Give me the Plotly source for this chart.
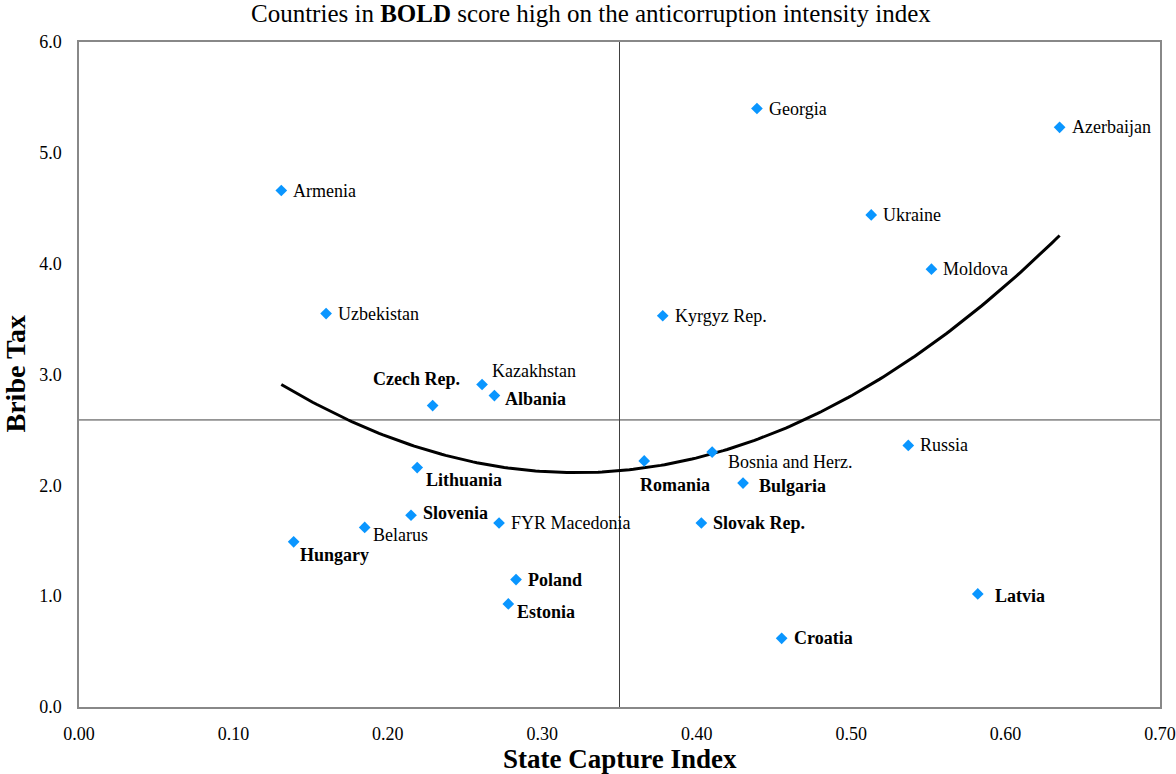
import numpy as np
import plotly.graph_objects as go

# Country data: State Capture Index (x) and Bribe Tax (y)
countries = ["Armenia", "Uzbekistan", "Czech Rep.", "Kazakhstan", "Albania",
             "Lithuania", "Slovenia", "Belarus", "Hungary", "FYR Macedonia",
             "Poland", "Estonia", "Georgia", "Azerbaijan", "Ukraine", "Moldova",
             "Kyrgyz Rep.", "Romania", "Bosnia and Herz.", "Russia", "Bulgaria",
             "Slovak Rep.", "Latvia", "Croatia"]
state_capture = [0.131, 0.160, 0.229, 0.261, 0.269,
                 0.219, 0.215, 0.185, 0.139, 0.272,
                 0.283, 0.278, 0.439, 0.635, 0.513, 0.552,
                 0.378, 0.366, 0.410, 0.537, 0.430,
                 0.403, 0.582, 0.455]
bribe_tax = [4.66, 3.55, 2.72, 2.91, 2.81,
             2.16, 1.73, 1.62, 1.49, 1.66,
             1.15, 0.93, 5.40, 5.23, 4.44, 3.95,
             3.53, 2.22, 2.30, 2.36, 2.02,
             1.66, 1.02, 0.62]
# High anticorruption intensity -> bold label
high_intensity = ["Czech Rep.", "Albania", "Lithuania", "Slovenia", "Hungary",
                  "Poland", "Estonia", "Romania", "Bulgaria", "Slovak Rep.",
                  "Latvia", "Croatia"]

# Reference lines
x_ref = 0.35
y_ref = 2.59

x_ticks = [0.0, 0.1, 0.2, 0.3, 0.4, 0.5, 0.6, 0.7]
y_ticks = [0.0, 1.0, 2.0, 3.0, 4.0, 5.0, 6.0]

# label placement (anchor, xshift px, yshift px)
label_pos = {
    "Czech Rep.": ("center", -16, 27),
    "Kazakhstan": ("left", 8, 13),
    "Albania": ("left", 9, -3),
    "Lithuania": ("left", 7, -12),
    "Slovenia": ("left", 10, 2),
    "Belarus": ("left", 6, -8),
    "Hungary": ("left", 4, -13),
    "Estonia": ("left", 7, -8),
    "Romania": ("left", -6, -24),
    "Bosnia and Herz.": ("left", 14, -10),
    "Bulgaria": ("left", 14, -3),
    "Latvia": ("left", 15, -2),
}

fig = go.Figure()

# quadratic trend fitted to the data
coef = np.polyfit(state_capture, bribe_tax, 2)
xs = np.linspace(min(state_capture), max(state_capture), 200)
fig.add_trace(go.Scatter(x=xs, y=np.polyval(coef, xs), mode="lines",
                         line=dict(color="black", width=3), hoverinfo="skip",
                         showlegend=False))

fig.add_trace(go.Scatter(x=state_capture, y=bribe_tax, mode="markers",
                         marker=dict(symbol="diamond", size=9, color="#0A96FF"),
                         text=countries, showlegend=False))

annotations = []
for name, xv, yv in zip(countries, state_capture, bribe_tax):
    anchor, dx, dy = label_pos.get(name, ("left", 10, 0))
    txt = f"<b>{name}</b>" if name in high_intensity else name
    annotations.append(dict(x=xv, y=yv, xref="x", yref="y", text=txt,
                            showarrow=False, xanchor=anchor, yanchor="middle",
                            xshift=dx, yshift=dy,
                            font=dict(family="Liberation Serif", size=18, color="black")))

annotations.append(dict(x=0.4736, y=1, xref="paper", yref="paper", yshift=29,
                        text="Countries in <b>BOLD</b> score high on the anticorruption intensity index",
                        showarrow=False, xanchor="center", yanchor="middle",
                        font=dict(family="Liberation Serif", size=25, color="black")))
annotations.append(dict(x=0.5, y=0, xref="paper", yref="paper", yshift=-52,
                        text="<b>State Capture Index</b>", showarrow=False,
                        xanchor="center", yanchor="middle",
                        font=dict(family="Liberation Serif", size=27, color="black")))
annotations.append(dict(x=0, y=0.5, xref="paper", yref="paper", xshift=-64,
                        text="<b>Bribe Tax</b>", showarrow=False, textangle=-90,
                        xanchor="center", yanchor="middle",
                        font=dict(family="Liberation Serif", size=28, color="black")))

shapes = [
    dict(type="line", xref="x", yref="paper", x0=x_ref, x1=x_ref, y0=0, y1=1,
         line=dict(color="#404040", width=1), layer="below"),
    dict(type="line", xref="paper", yref="y", x0=0, x1=1, y0=y_ref, y1=y_ref,
         line=dict(color="#404040", width=1), layer="below"),
]

fig.update_layout(
    width=1176, height=774,
    margin=dict(l=79, r=16, t=42, b=67),
    paper_bgcolor="white", plot_bgcolor="white",
    font=dict(family="Liberation Serif", size=18, color="black"),
    annotations=annotations, shapes=shapes,
    xaxis=dict(range=[0, 0.7], tickvals=x_ticks,
               ticktext=[f"{v:.2f}" for v in x_ticks], automargin=False,
               tickfont=dict(family="Liberation Serif", size=18, color="black"),
               showgrid=False, zeroline=False, showline=True, mirror=True,
               linecolor="#888888", linewidth=1.5, ticks="", ticklabelstandoff=10),
    yaxis=dict(range=[0, 6], tickvals=y_ticks,
               ticktext=[f"{v:.1f}" for v in y_ticks], automargin=False,
               tickfont=dict(family="Liberation Serif", size=18, color="black"),
               showgrid=False, zeroline=False, showline=True, mirror=True,
               linecolor="#888888", linewidth=1.5, ticks="", ticklabelstandoff=12),
)

fig.write_html("out.html")
